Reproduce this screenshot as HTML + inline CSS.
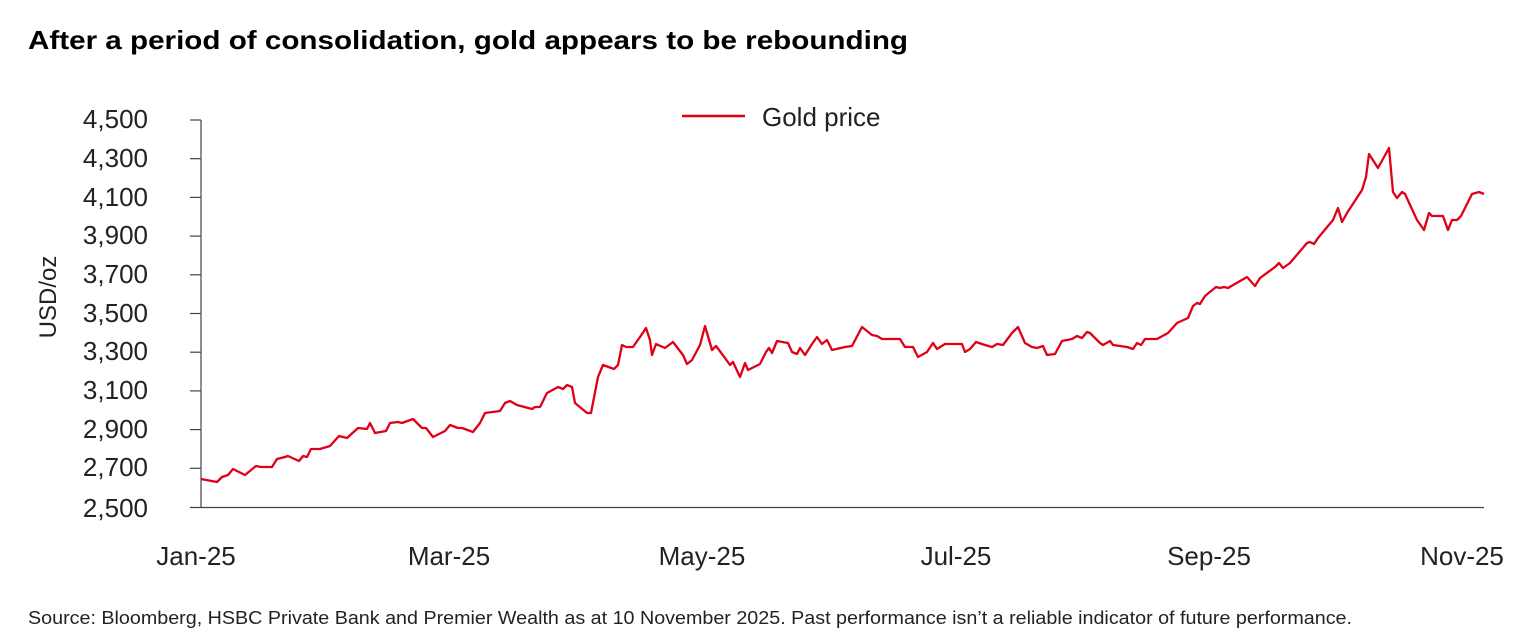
<!DOCTYPE html>
<html><head><meta charset="utf-8"><style>
body{margin:0;background:#fff;}
svg{display:block;font-family:"Liberation Sans",Arial,sans-serif;}
</style></head><body>
<svg width="1532" height="642" viewBox="0 0 1532 642">
<text x="28" y="49" font-size="26" font-weight="bold" fill="#000" textLength="880" lengthAdjust="spacingAndGlyphs">After a period of consolidation, gold appears to be rebounding</text>
<line x1="682" y1="116" x2="745" y2="116" stroke="#e00018" stroke-width="2.5"/>
<text x="762" y="126" font-size="26" fill="#222">Gold price</text>
<text transform="translate(56,297) rotate(-90)" text-anchor="middle" font-size="24" fill="#222">USD/oz</text>
<g font-size="26" fill="#222" text-anchor="end">
<text x="148" y="128">4,500</text><text x="148" y="167">4,300</text><text x="148" y="206">4,100</text><text x="148" y="244">3,900</text><text x="148" y="283">3,700</text><text x="148" y="322">3,500</text><text x="148" y="360">3,300</text><text x="148" y="399">3,100</text><text x="148" y="438">2,900</text><text x="148" y="476">2,700</text><text x="148" y="517">2,500</text>
</g>
<g stroke="#444" stroke-width="1.2">
<line x1="201" y1="120" x2="201" y2="508"/>
<line x1="190" y1="507.5" x2="1484" y2="507.5"/>
<line x1="190" y1="120" x2="201" y2="120"/><line x1="190" y1="158.7" x2="201" y2="158.7"/><line x1="190" y1="197.4" x2="201" y2="197.4"/><line x1="190" y1="236.1" x2="201" y2="236.1"/><line x1="190" y1="274.8" x2="201" y2="274.8"/><line x1="190" y1="313.5" x2="201" y2="313.5"/><line x1="190" y1="352.2" x2="201" y2="352.2"/><line x1="190" y1="390.9" x2="201" y2="390.9"/><line x1="190" y1="429.6" x2="201" y2="429.6"/><line x1="190" y1="468.3" x2="201" y2="468.3"/>
</g>
<g font-size="26" fill="#222" text-anchor="middle">
<text x="196" y="565">Jan-25</text><text x="449" y="565">Mar-25</text><text x="702" y="565">May-25</text><text x="956" y="565">Jul-25</text><text x="1209" y="565">Sep-25</text><text x="1462" y="565">Nov-25</text>
</g>
<polyline fill="none" stroke="#e00018" stroke-width="2.3" stroke-linejoin="round" points="201,479 217,482 222,477 228,475 233,469 245,475 256,466 261,467 272,467 277,459 285,457 288,456 299,461 303,456 307,457 311,449 320,449 330,446 339,436 347,438 358,428 367,429 370,423 375,433 386,431 390,423 398,422 402,423 413,419 422,428 426,428 433,437 445,431 450,425 458,428 462,428 473,432 480,423 485,413 500,411 505,403 510,401 517,405 532,409 535,407 540,407 547,393 558,387 563,389 567,385 572,387 575,403 587,413 591,413 598,377 603,365 614,369 618,365 622,345 626,347 633,347 640,337 646,328 650,340 652,355 656,344 665,348 673,342 683,355 687,364 692,360 700,345 705,326 712,350 716,346 725,358 730,365 733,362 740,377 745,363 748,370 760,364 766,352 769,348 772,353 777,341 788,343 792,352 797,354 800,348 805,355 812,344 817,337 822,344 827,340 832,350 845,347 852,346 862,327 872,335 877,336 882,339 900,339 905,347 913,347 918,357 927,352 933,343 937,349 945,344 962,344 965,352 970,349 976,342 985,345 992,347 997,344 1003,345 1012,333 1018,327 1025,343 1032,347 1037,348 1043,346 1047,355 1055,354 1062,341 1072,339 1077,336 1082,338 1087,332 1090,333 1100,343 1103,345 1110,341 1113,345 1127,347 1133,349 1137,343 1141,345 1145,339 1157,339 1168,333 1177,323 1188,318 1193,306 1197,303 1200,304 1205,296 1216,287 1220,288 1224,287 1228,288 1247,277 1255,286 1260,278 1275,267 1279,263 1283,268 1290,263 1307,243 1310,242 1314,244 1318,238 1333,220 1338,208 1342,222 1347,213 1362,190 1366,177 1369,154 1378,168 1389,148 1393,192 1397,198 1402,192 1405,194 1417,220 1424,230 1429,213 1432,216 1443,216 1448,230 1452,220 1457,220 1461,216 1472,194 1479,192 1484,194"/>
<text x="28" y="624" font-size="18" fill="#222" textLength="1324" lengthAdjust="spacingAndGlyphs">Source: Bloomberg, HSBC Private Bank and Premier Wealth as at 10 November 2025. Past performance isn’t a reliable indicator of future performance.</text>
</svg>
</body></html>
